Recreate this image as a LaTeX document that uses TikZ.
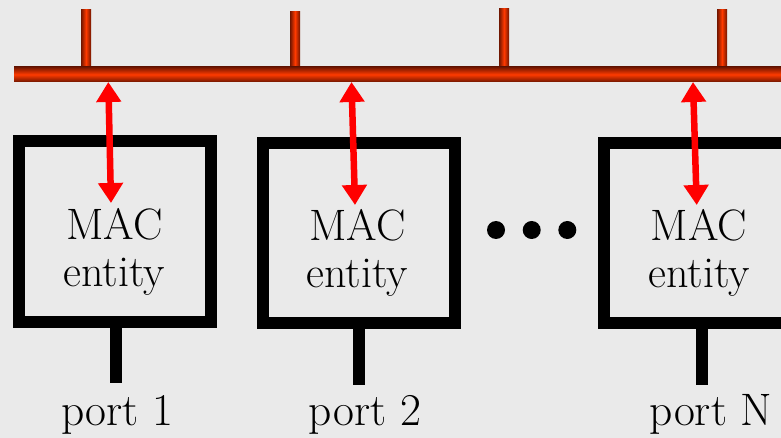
\documentclass[tikz,border=0pt]{standalone}
\usepackage{fontspec}
\newfontfamily\timesfam{Latin Modern Roman}
\usetikzlibrary{arrows.meta}
\definecolor{bg}{RGB}{234,234,234}
\definecolor{busdark}{RGB}{112,22,0}
\definecolor{buslight}{RGB}{255,58,0}
\definecolor{arrred}{RGB}{255,0,0}
\tikzset{
  macbox/.style={draw=black, line width=12pt, minimum width=192pt, minimum height=180.5pt, inner sep=0pt},
  maclabel/.style={align=center, inner sep=0pt, font=\timesfam\fontsize{44}{46.3}\selectfont},
  portlabel/.style={anchor=base, inner sep=0pt, font=\timesfam\fontsize{45.5}{45.5}\selectfont},
  stem/.style={line width=12pt, line cap=butt},
  busbar/.style={top color=busdark, bottom color=busdark, middle color=buslight, draw=none},
  busstub/.style={left color=busdark, right color=busdark, middle color=buslight, draw=none},
  link/.style={draw=arrred, line width=6.5pt, {Triangle[length=20pt,width=24pt]}-{Triangle[length=20pt,width=24pt]}},
  dotnode/.style={circle, fill=black, draw=none, minimum size=18pt, inner sep=0pt}
}
\begin{document}
\begin{tikzpicture}[x=1pt,y=-1pt]
\useasboundingbox (0,0) rectangle (781,438);
\clip (0,0) rectangle (781,438);
\fill[bg] (0,0) rectangle (781,438);
% bus stubs
\shade[busstub] (81,10) rectangle (91,68);
\shade[busstub] (290,12) rectangle (300,68);
\shade[busstub] (499,9) rectangle (509,68);
\shade[busstub] (717,10) rectangle (727,68);
% bus
\shade[busbar] (14,67) rectangle (790,82);
% tap coordinates on the bus
\coordinate (t1) at (108.3,82);
\coordinate (t2) at (351.5,82);
\coordinate (t3) at (693,82);
% boxes
\node[macbox] (box1) at (115,231.25) {};
\node[macbox] (box2) at (359,233) {};
\node[macbox] (box3) at (700,233) {};
% labels
\node[maclabel] (mac1) at (114.5,252) {MAC\\entity};
\node[maclabel] (mac2) at (357.5,253) {MAC\\entity};
\node[maclabel] (mac3) at (699,253) {MAC\\entity};
% arrow ends inside boxes
\coordinate (e1) at (111,203);
\coordinate (e2) at (355,205);
\coordinate (e3) at (696.7,205);
\draw[link] (t1) -- (e1);
\draw[link] (t2) -- (e2);
\draw[link] (t3) -- (e3);
% stems
\coordinate (p1) at (116,383);
\coordinate (p2) at (359,385);
\coordinate (p3) at (702,385);
\draw[stem] (p1 |- box1.south) -- (p1);
\draw[stem] (p2 |- box2.south) -- (p2);
\draw[stem] (p3 |- box3.south) -- (p3);
% port labels
\node[portlabel] (port1) at (117.4,425) {port 1};
\node[portlabel] (port2) at (365,425) {port 2};
\node[portlabel] (port3) at (711,425) {port N};
% dots
\node[dotnode] (d1) at (496,230) {};
\node[dotnode] (d2) at (531.7,230) {};
\node[dotnode] (d3) at (567.3,230) {};
\end{tikzpicture}
\end{document}
